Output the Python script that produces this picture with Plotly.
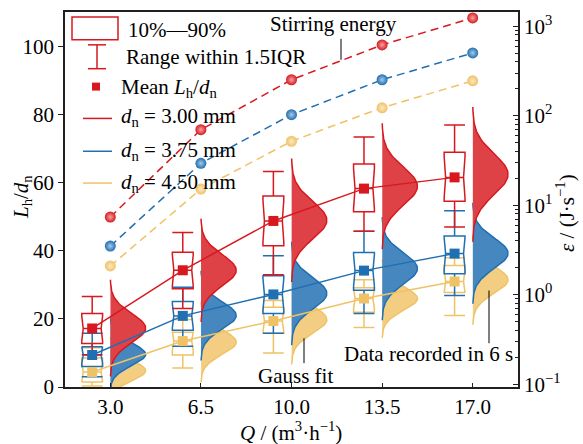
import numpy as np
import plotly.graph_objects as go

# ---------------- data ----------------
Q_labels = ["3.0", "6.5", "10.0", "13.5", "17.0"]
series = ["3.00", "3.75", "4.50"]
colors = ["#d7191f", "#1f6fb2", "#f0c266"]
tint = ["#e25a5e", "#5f95c8", "#f6d592"]
center_tint = ["#f3a3a5", "#a9c9e8", "#fbe9c4"]

# 10%-90% box, 1.5IQR whisker range, mean of Lh/dn
red_p10 = [12.8, 28.9, 41.5, 51.5, 54.6]
red_p90 = [21.6, 39.6, 56.1, 65.5, 69.0]
red_lo = [9.5, 23.1, 33.0, 45.8, 47.0]
red_hi = [26.6, 45.4, 63.3, 73.5, 77.0]
red_mean = [17.2, 34.3, 48.8, 58.3, 61.6]

blue_p10 = [6.0, 16.7, 21.6, 28.4, 33.3]
blue_p90 = [11.8, 25.1, 32.7, 39.5, 44.4]
blue_lo = [3.0, 12.0, 15.8, 21.6, 26.9]
blue_hi = [15.8, 29.3, 38.6, 45.8, 51.8]
blue_mean = [9.4, 20.9, 27.2, 34.2, 39.2]

yel_p10 = [1.5, 9.4, 15.8, 22.0, 27.8]
yel_p90 = [8.5, 16.1, 23.4, 29.2, 35.7]
yel_lo = [0.3, 5.6, 10.0, 17.5, 21.0]
yel_hi = [11.5, 19.8, 25.4, 31.5, 38.0]
yel_mean = [4.4, 13.5, 19.4, 26.0, 31.0]

# Gauss fit of the recorded data (centre, sigma, normalised peak width)
red_mu = [17.3, 34.3, 49.0, 59.0, 62.5]
red_sd = [4.3, 4.6, 5.5, 5.6, 6.0]
blue_mu = [9.6, 21.0, 27.5, 34.8, 39.3]
blue_sd = [3.3, 4.0, 4.6, 4.6, 4.5]
yel_mu = [4.8, 13.2, 19.8, 26.0, 31.5]
yel_sd = [3.0, 3.6, 4.0, 3.5, 4.0]
peak_w = [0.39, 0.39, 0.39, 0.39, 0.39]

# stirring energy (J/s), right log axis
red_E = [7.4, 70, 253, 620, 1240]
blue_E = [3.5, 29.5, 103, 253, 504]
yel_E = [2.1, 15.2, 52, 123, 246]
E_ticks = [0.1, 1, 10, 100, 1000]
E_ticktext = ["10<sup>−1</sup>", "10<sup>0</sup>", "10<sup>1</sup>",
              "10<sup>2</sup>", "10<sup>3</sup>"]

p10 = [red_p10, blue_p10, yel_p10]
p90 = [red_p90, blue_p90, yel_p90]
lo = [red_lo, blue_lo, yel_lo]
hi = [red_hi, blue_hi, yel_hi]
means = [red_mean, blue_mean, yel_mean]
mus = [red_mu, blue_mu, yel_mu]
sds = [red_sd, blue_sd, yel_sd]
energies = [red_E, blue_E, yel_E]

FONT = "Liberation Serif, Times New Roman, Times, serif"
xpos = list(range(len(Q_labels)))
box_off = -0.2

fig = go.Figure()

# stirring energy (dashed lines with spheres)
for s in range(3):
    fig.add_trace(go.Scatter(
        x=xpos, y=energies[s], yaxis="y2", mode="lines+markers",
        line=dict(color=colors[s], width=1.5, dash="8px,5px"),
        marker=dict(size=11, color=colors[s],
                    gradient=dict(type="radial", color=center_tint[s])),
        showlegend=False, hoverinfo="skip"))

# histograms + gauss fits (yellow below, red on top)
for s in [2, 1, 0]:
    for i in xpos:
        mu, sd = mus[s][i], sds[s][i]
        yy = np.linspace(mu - 3.3 * sd, mu + 3.3 * sd, 90)
        xx = i + peak_w[i] * np.exp(-(yy - mu) ** 2 / (2 * sd ** 2))
        fig.add_trace(go.Scatter(
            x=xx, y=yy, mode="lines", fill="toself",
            fillcolor=tint[s],
            fillpattern=dict(shape="-", fgcolor=colors[s], bgcolor=tint[s],
                             size=2, solidity=0.8),
            line=dict(color=colors[s], width=1.5),
            showlegend=False, hoverinfo="skip"))

# boxes
for s in [2, 1, 0]:
    fig.add_trace(go.Box(
        x=[i + box_off for i in xpos],
        q1=p10[s], q3=p90[s], median=means[s],
        lowerfence=lo[s], upperfence=hi[s],
        notchspan=[0.42 * (b - a) for a, b in zip(p10[s], p90[s])],
        notched=True, notchwidth=0.07, width=0.23, whiskerwidth=1,
        line=dict(color=colors[s], width=1.5),
        fillcolor="rgba(0,0,0,0)", boxpoints=False,
        showlegend=False, hoverinfo="skip"))

# mean lines + squares
for s in [2, 1, 0]:
    fig.add_trace(go.Scatter(
        x=[i + box_off for i in xpos], y=means[s], mode="lines+markers",
        line=dict(color=colors[s], width=1.5),
        marker=dict(symbol="square", size=10, color=colors[s]),
        showlegend=False, hoverinfo="skip"))

# ---------------- layout helpers (pixel -> paper) ----------------
L, R, T, B = 65, 518, 10, 387
def PX(x):
    return (x - L) / (R - L)
def PY(y):
    return (B - y) / (B - T)

shapes = []
ann = []
tf = dict(family=FONT, size=21, color="black")

# legend: box icon
shapes.append(dict(type="rect", xref="paper", yref="paper",
                   x0=PX(72), x1=PX(118), y0=PY(38), y1=PY(15),
                   line=dict(color=colors[0], width=1.5)))
# whisker icon
shapes.append(dict(type="line", xref="paper", yref="paper",
                   x0=PX(97), x1=PX(97), y0=PY(43), y1=PY(67),
                   line=dict(color=colors[0], width=1.5)))
for yy in (43, 67):
    shapes.append(dict(type="line", xref="paper", yref="paper",
                       x0=PX(88), x1=PX(106), y0=PY(yy), y1=PY(yy),
                       line=dict(color=colors[0], width=1.5)))
# mean square
shapes.append(dict(type="rect", xref="paper", yref="paper",
                   x0=PX(92), x1=PX(100), y0=PY(89), y1=PY(81),
                   fillcolor=colors[0], line=dict(width=0)))
# line icons
for s, yy in zip(range(3), (117, 150, 182)):
    shapes.append(dict(type="line", xref="paper", yref="paper",
                       x0=PX(83), x1=PX(112), y0=PY(yy), y1=PY(yy),
                       line=dict(color=colors[s], width=1.5)))

def text(x, y, t, xa="left"):
    ann.append(dict(xref="paper", yref="paper", x=PX(x), y=PY(y), text=t,
                    showarrow=False, xanchor=xa, yanchor="middle", font=tf))

text(126, 28, "10%—90%")
text(124, 55, "Range within 1.5IQR")
text(119, 86, "Mean <i>L</i><sub>h</sub>/<i>d</i><sub>n</sub>")
for s, yy in zip(range(3), (116, 150, 182)):
    text(119, yy, "<i>d</i><sub>n</sub> = %s mm" % series[s])

# callouts
text(333, 22, "Stirring energy", "center")
shapes.append(dict(type="line", xref="paper", yref="paper",
                   x0=PX(341), x1=PX(341), y0=PY(37), y1=PY(58),
                   line=dict(color="black", width=1)))
text(295, 376, "Gauss fit", "center")
shapes.append(dict(type="line", xref="paper", yref="paper",
                   x0=PX(304), x1=PX(304), y0=PY(338), y1=PY(363),
                   line=dict(color="black", width=1)))
text(428, 354, "Data recorded in 6 s", "center")
shapes.append(dict(type="line", xref="paper", yref="paper",
                   x0=PX(489), x1=PX(489), y0=PY(290), y1=PY(343),
                   line=dict(color="black", width=1)))

# axis titles
ann.append(dict(xref="paper", yref="paper", x=PX(22), y=PY(196),
                text="<i>L</i><sub>h</sub>/<i>d</i><sub>n</sub>",
                textangle=-90, showarrow=False, font=tf,
                xanchor="center", yanchor="middle"))
ann.append(dict(xref="paper", yref="paper", x=PX(566), y=PY(212),
                text="<i>ε</i> / (J·s<sup>−1</sup>)",
                textangle=-90, showarrow=False, font=tf,
                xanchor="center", yanchor="middle"))
ann.append(dict(xref="paper", yref="paper", x=PX(291), y=PY(432),
                text="<i>Q</i> / (m<sup>3</sup>·h<sup>−1</sup>)",
                showarrow=False, font=tf, xanchor="center", yanchor="middle"))

axcol = "#231f20"
fig.update_layout(
    width=583, height=444,
    margin=dict(l=L, r=583 - R, t=T, b=444 - B),
    paper_bgcolor="white", plot_bgcolor="white",
    boxmode="overlay",
    font=tf,
    shapes=shapes, annotations=ann,
    xaxis=dict(range=[-0.5, 4.5], tickvals=xpos, ticktext=Q_labels,
               ticks="inside", ticklen=4, tickcolor=axcol,
               showline=True, linecolor=axcol, linewidth=1.5, mirror=True,
               showgrid=False, zeroline=False, tickfont=tf),
    yaxis=dict(range=[0, 110.2], tickvals=[0, 20, 40, 60, 80, 100],
               ticks="outside", ticklen=5, tickcolor=axcol,
               showline=True, linecolor=axcol, linewidth=1.5,
               showgrid=False, zeroline=False, tickfont=tf),
    yaxis2=dict(type="log", range=[-1.03, 3.16], overlaying="y", side="right",
                tickvals=E_ticks, ticktext=E_ticktext,
                ticks="inside", ticklen=5, tickcolor=axcol,
                minor=dict(ticks="inside", ticklen=3, tickcolor=axcol,
                           dtick="D1", showgrid=False),
                showline=True, linecolor=axcol, linewidth=1.5,
                showgrid=False, zeroline=False, tickfont=tf),
)

fig.write_html("out.html")
